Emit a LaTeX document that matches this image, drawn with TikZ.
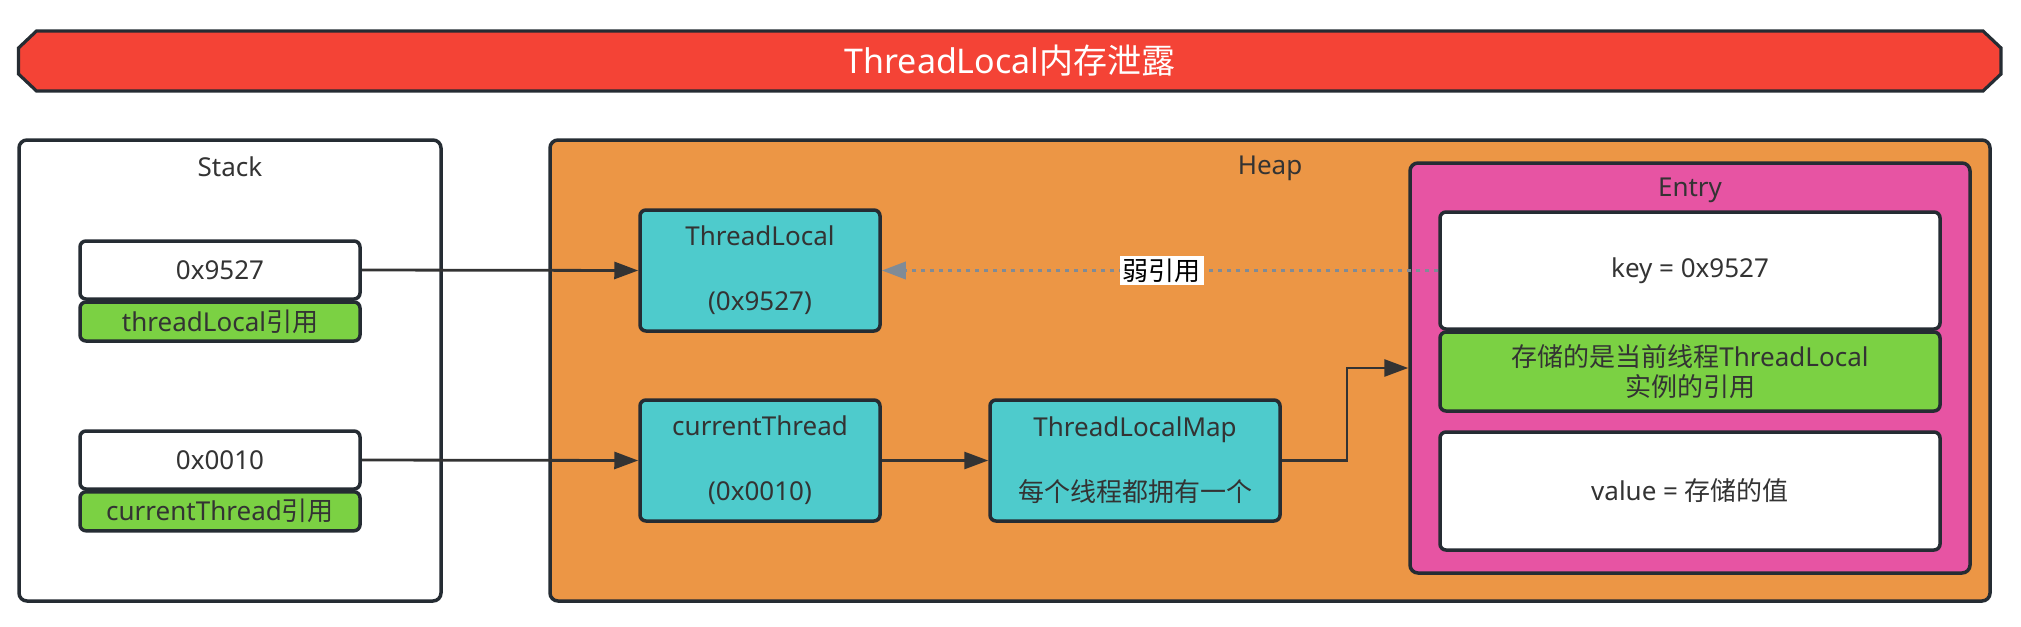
\documentclass[tikz,border=0pt]{standalone}
\usepackage{fontspec}
\setmainfont{Noto Sans}
\newfontfamily\cjk{Noto Sans CJK SC}
\usetikzlibrary{arrows.meta}
\definecolor{bd}{HTML}{252C33}
\definecolor{tx}{HTML}{333333}
\definecolor{bannerred}{HTML}{F44336}
\definecolor{heapor}{HTML}{EC9645}
\definecolor{teal}{HTML}{4ECBCC}
\definecolor{pinkc}{HTML}{E754A3}
\definecolor{greenc}{HTML}{7BD143}
\definecolor{grayarr}{HTML}{808B96}
\tikzset{
  box/.style={draw=bd, line width=1.75pt, rounded corners=3pt, text=tx, font=\fontsize{13}{15.5}\selectfont, align=center, inner sep=0pt},
  whitebox/.style={box, fill=white},
  greenbox/.style={box, fill=greenc},
  tealbox/.style={box, fill=teal},
  area/.style={draw=bd, line width=1.75pt, rounded corners=4pt},
  lbl/.style={text=tx, font=\fontsize{13}{15.5}\selectfont, inner sep=0pt},
  conn/.style={draw=tx, line width=1.4pt, -{Triangle[length=12pt,width=8.5pt]}},
  weak/.style={draw=grayarr, line width=1.75pt, dash pattern=on 2pt off 2.5pt, -{Triangle[length=12pt,width=8.5pt,fill=grayarr]}},
}
\begin{document}
\begin{tikzpicture}[x=0.5pt,y=-0.5pt]
\useasboundingbox (0,0) rectangle (2021,626);
% banner
\filldraw[draw=bd, line width=1.6pt, fill=bannerred]
  (18.5,48) -- (36.5,31) -- (1983,31) -- (2001,48) -- (2001,74) -- (1983,91) -- (36.5,91) -- (18.5,74) -- cycle;
\node[text=white, font=\fontsize{17}{20}\selectfont, inner sep=0pt] (banner) at (1010,61) {ThreadLocal{\cjk 内存泄露}};
% areas
\node[area, fill=white, minimum width=211pt, minimum height=230.5pt] (stack) at (230,370.5) {};
\node[lbl] (stacklbl) at (230,167) {Stack};
\node[area, fill=heapor, minimum width=720pt, minimum height=230.5pt] (heap) at (1270,370.5) {};
\node[lbl] (heaplbl) at (1270,168) {Heap};
\node[area, fill=pinkc, minimum width=280pt, minimum height=205pt] (entry) at (1690,368) {};
\node[lbl] (entrylbl) at (1690,190) {Entry};
% stack items
\node[whitebox, minimum width=140pt, minimum height=29pt] (a9527) at (220,270) {0x9527};
\node[greenbox, minimum width=140pt, minimum height=19.5pt] (g1) at (220,321.5) {threadLocal{\cjk 引用}};
\node[whitebox, minimum width=140pt, minimum height=29pt] (a0010) at (220,460) {0x0010};
\node[greenbox, minimum width=140pt, minimum height=19.5pt] (g2) at (220,511.3) {currentThread{\cjk 引用}};
% heap items
\node[tealbox, minimum width=120pt, minimum height=60.5pt] (tl) at (760,270.5) {ThreadLocal\\[17pt](0x9527)};
\node[tealbox, minimum width=120pt, minimum height=60.5pt] (ct) at (760,460.5) {currentThread\\[17pt](0x0010)};
\node[tealbox, minimum width=145pt, minimum height=60.5pt] (tlm) at (1135,460.5) {ThreadLocalMap\\[17pt]{\cjk 每个线程都拥有一个}};
% entry items
\node[whitebox, minimum width=250pt, minimum height=58.5pt] (key) at (1690,270.5) {key = 0x9527};
\node[greenbox, minimum width=250pt, minimum height=39.5pt, font=\fontsize{13}{15}\selectfont] (kg) at (1690,371.5) {{\cjk 存储的是当前线程}ThreadLocal\\{\cjk 实例的引用}};
\node[whitebox, minimum width=250pt, minimum height=59pt] (val) at (1690,491) {value = {\cjk 存储的值}};
% connectors
\draw[conn] (a9527.east) -- (tl.west);
\draw[conn] (a0010.east) -- (ct.west);
\draw[conn] (ct.east) -- (tlm.west);
\coordinate (bend) at (1347,460.5);
\draw[conn] (tlm.east) -- (bend) |- (entry.west);
\draw[weak] (key.west) -- (tl.east) node[pos=0.497, fill=white, text=black, font=\fontsize{13}{15}\selectfont\cjk, inner sep=1.5pt] (weaklbl) {弱引用};
\end{tikzpicture}
\end{document}
